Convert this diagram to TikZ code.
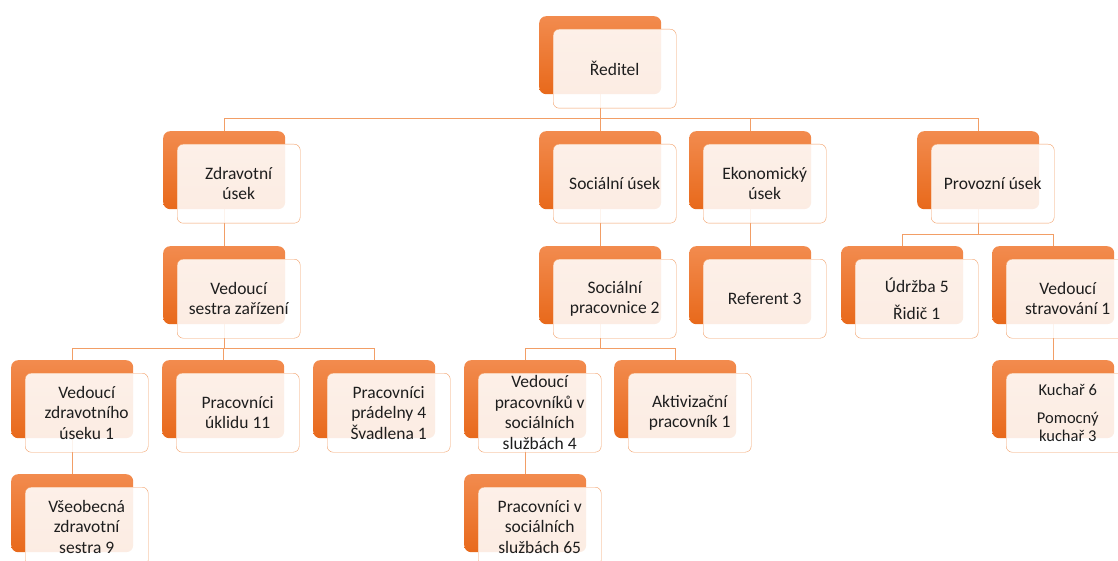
\documentclass[tikz,border=0pt]{standalone}
\usepackage{fontspec}
\setmainfont{Carlito}
\usetikzlibrary{backgrounds}
\definecolor{orgtop}{HTML}{F28B4E}
\definecolor{orgbot}{HTML}{E8691B}
\definecolor{orgline}{HTML}{F29E66}
\definecolor{orgtext}{HTML}{1E1E1E}

% back box + front box of one unit: [extra style], name, x, y (px), text
\newcommand{\orgbox}[5][]{%
	\node[backbox] (b-#2) at (#3,#4) {};
	\node[frontbox,#1] (#2) at ([shift={(14,13)}]b-#2.north west) {#5};
}

\begin{document}
\begin{tikzpicture}[x=1pt,y=-1pt,
	backbox/.style={anchor=north west,minimum width=122pt,minimum height=78pt,inner sep=0pt,rounded corners=7pt,top color=orgtop,bottom color=orgbot},
	frontbox/.style={anchor=north west,minimum width=123pt,minimum height=79pt,inner sep=0pt,rounded corners=6pt,draw=orgline,fill=white,fill opacity=0.88,text opacity=1,text=orgtext,align=center,font=\fontsize{17.5}{20.5}\selectfont},
	small/.style={font=\fontsize{16.5}{18}\selectfont},
	link/.style={draw=orgline,line width=1pt}]
	\useasboundingbox (0,0) rectangle (1118,561);
	\orgbox{red}{539}{16}{Ředitel}
	\orgbox{zdr}{163}{131}{Zdravotní\\úsek}
	\orgbox{soc}{539}{131}{Sociální úsek}
	\orgbox{eko}{689}{131}{Ekonomický\\úsek}
	\orgbox{pro}{917}{131}{Provozní úsek}
	\orgbox{vss}{163}{246}{Vedoucí\\sestra zařízení}
	\orgbox{spr}{539}{246}{Sociální\\pracovnice 2}
	\orgbox{ref}{689}{246}{Referent 3}
	\orgbox{udr}{841}{246}{Údržba 5\\[7pt]Řidič 1}
	\orgbox{vst}{992}{246}{Vedoucí\\stravování 1}
	\orgbox{vzu}{11}{360}{Vedoucí\\zdravotního\\úseku 1}
	\orgbox{upr}{162}{360}{Pracovníci\\úklidu 11}
	\orgbox{pra}{313}{360}{Pracovníci\\prádelny 4\\Švadlena 1}
	\orgbox{vps}{464}{360}{Vedoucí\\pracovníků v\\sociálních\\službách 4}
	\orgbox{akt}{614}{360}{Aktivizační\\pracovník 1}
	\orgbox[small]{kuc}{992}{360}{Kuchař 6\\[10pt]Pomocný\\kuchař 3}
	\orgbox{vzs}{11}{474}{Všeobecná\\zdravotní\\sestra 9}
	\orgbox{psl}{464}{474}{Pracovníci v\\sociálních\\službách 65}
	\begin{scope}[on background layer]
		\foreach \c in {zdr,soc,eko,pro}
			\draw[link] (b-red.south) -- ++(0,24) -| (b-\c.north);
		\foreach \c in {udr,vst}
			\draw[link] (b-pro.south) -- ++(0,25) -| (b-\c.north);
		\foreach \c in {vzu,upr,pra}
			\draw[link] (b-vss.south) -- ++(0,24) -| (b-\c.north);
		\foreach \c in {vps,akt}
			\draw[link] (b-spr.south) -- ++(0,24) -| (b-\c.north);
		\draw[link] (b-zdr.south) -- (b-vss.north);
		\draw[link] (b-soc.south) -- (b-spr.north);
		\draw[link] (b-eko.south) -- (b-ref.north);
		\draw[link] (b-vst.south) -- (b-kuc.north);
		\draw[link] (b-vzu.south) -- (b-vzs.north);
		\draw[link] (b-vps.south) -- (b-psl.north);
	\end{scope}
\end{tikzpicture}
\end{document}
